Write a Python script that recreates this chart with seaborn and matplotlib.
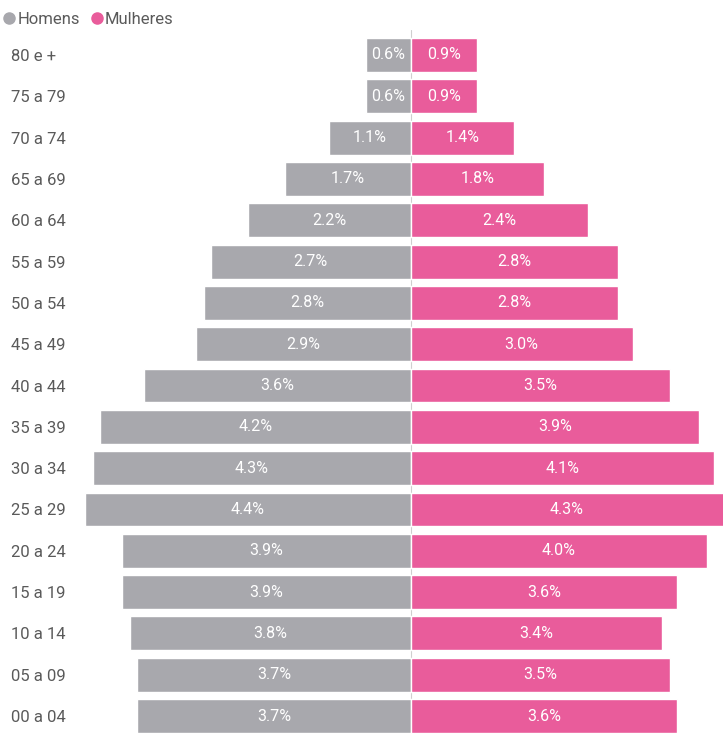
import matplotlib
matplotlib.use("Agg")
import matplotlib.pyplot as plt
from matplotlib.lines import Line2D
import pandas as pd
import seaborn as sns

# data (percent of total population)
age_groups = ["80 e +", "75 a 79", "70 a 74", "65 a 69", "60 a 64", "55 a 59",
              "50 a 54", "45 a 49", "40 a 44", "35 a 39", "30 a 34", "25 a 29",
              "20 a 24", "15 a 19", "10 a 14", "05 a 09", "00 a 04"]
homens = [0.6, 0.6, 1.1, 1.7, 2.2, 2.7, 2.8, 2.9, 3.6, 4.2, 4.3, 4.4,
          3.9, 3.9, 3.8, 3.7, 3.7]
mulheres = [0.9, 0.9, 1.4, 1.8, 2.4, 2.8, 2.8, 3.0, 3.5, 3.9, 4.1, 4.3,
            4.0, 3.6, 3.4, 3.5, 3.6]

GRAY = "#a8a8ad"
PINK = "#e95c9b"
TEXT = "#5a5a5a"

df = pd.DataFrame({"idade": age_groups, "homens": homens, "mulheres": mulheres})

sns.set_theme(style="white")
plt.rcParams["font.family"] = ["Roboto", "DejaVu Sans"]

fig = plt.figure(figsize=(7.23, 7.33), dpi=100)
ax = fig.add_axes([80 / 723, 0, 643 / 723, 703 / 733])

ax.axvline(0, color="#cfcfcf", lw=0.8, zorder=0)

sns.barplot(x=-df["homens"], y=df["idade"], orient="h", color=GRAY,
            width=0.82, saturation=1, ax=ax, zorder=2)
sns.barplot(x=df["mulheres"], y=df["idade"], orient="h", color=PINK,
            width=0.82, saturation=1, ax=ax, zorder=2)

ax.bar_label(ax.containers[0], labels=[f"{v:.1f}%" for v in homens],
             label_type="center", color="white", fontsize=11.5)
ax.bar_label(ax.containers[1], labels=[f"{v:.1f}%" for v in mulheres],
             label_type="center", color="white", fontsize=11.5)

ax.set_xlim(-4.47, 4.22)
ax.set_ylim(16.41, -0.605)
ax.set_xlabel("")
ax.set_ylabel("")
ax.set_xticks([])
ax.tick_params(axis="y", length=0, pad=50, labelsize=12, labelcolor=TEXT)
for lbl in ax.get_yticklabels():
    lbl.set_horizontalalignment("left")
sns.despine(ax=ax, left=True, bottom=True)

handles = [Line2D([], [], marker="o", ls="", color=GRAY, markersize=8),
           Line2D([], [], marker="o", ls="", color=PINK, markersize=8)]
fig.legend(handles, ["Homens", "Mulheres"], loc="center left",
           bbox_to_anchor=(-0.008, 1 - 19 / 733), ncol=2, frameon=False,
           handletextpad=0.0, columnspacing=0.5, handlelength=1.0,
           fontsize=12, labelcolor=TEXT, borderaxespad=0.0)

fig.savefig("out.png", dpi=100)
